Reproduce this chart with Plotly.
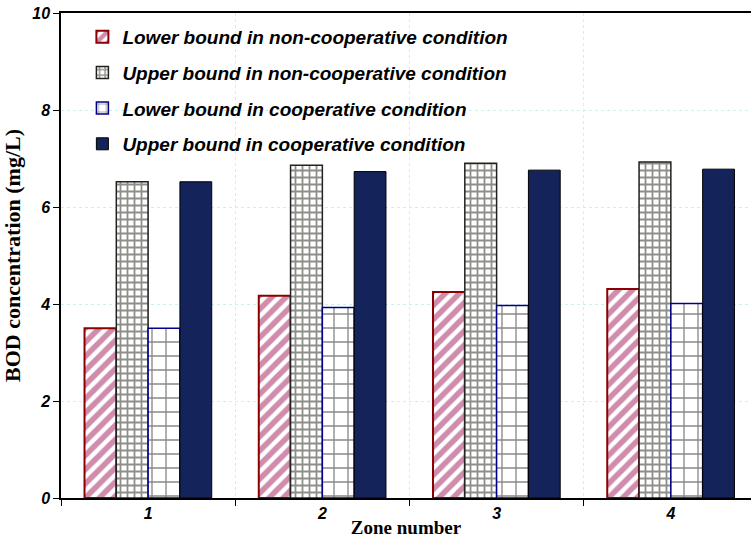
import plotly.graph_objects as go

zones = ["1", "2", "3", "4"]
lower_noncoop = [3.50, 4.17, 4.25, 4.31]
upper_noncoop = [6.52, 6.86, 6.90, 6.93]
lower_coop = [3.50, 3.93, 3.97, 4.01]
upper_coop = [6.52, 6.73, 6.76, 6.78]
series_names = [
    "Lower bound in non-cooperative condition",
    "Upper bound in non-cooperative condition",
    "Lower bound in cooperative condition",
    "Upper bound in cooperative condition",
]
y_ticks = [0, 2, 4, 6, 8, 10]

fig = go.Figure()
fig.add_trace(go.Bar(
    x=zones, y=lower_noncoop, name=series_names[0], legendgroup="a",
    marker=dict(color="white", line=dict(color="#8B0000", width=2),
                pattern=dict(shape="/", fgcolor="#A01A5C", bgcolor="white",
                             size=10, solidity=0.55, fillmode="overlay")),
))
fig.add_trace(go.Bar(
    x=zones, y=upper_noncoop, name=series_names[1], legendgroup="b",
    marker=dict(color="white", line=dict(color="#222222", width=1.5),
                pattern=dict(shape="+", fgcolor="#1e1e14", bgcolor="white",
                             size=7, solidity=0.45, fillmode="overlay")),
))
fig.add_trace(go.Bar(
    x=zones, y=lower_coop, name=series_names[2], legendgroup="c",
    marker=dict(color="white", line=dict(color="#00008B", width=1.5),
                pattern=dict(shape="+", fgcolor="#111111", bgcolor="white",
                             size=14, solidity=0.18, fillmode="overlay")),
))
fig.add_trace(go.Bar(
    x=zones, y=upper_coop, name=series_names[3], legendgroup="d",
    marker=dict(color="#14245a", line=dict(color="#000000", width=1)),
))

fig.update_layout(
    width=751, height=547,
    margin=dict(l=61, r=0, t=13, b=49),
    paper_bgcolor="white", plot_bgcolor="white",
    barmode="group", bargap=0.27, bargroupgap=0,
    showlegend=True,
    legend=dict(
        x=0.031, y=0.99, xanchor="left", yanchor="top",
        bgcolor="rgba(0,0,0,0)", traceorder="grouped", tracegroupgap=8,
        font=dict(family="Liberation Sans", size=19, color="black",
                  weight="bold", style="italic"),
        itemwidth=30,
    ),
    xaxis=dict(
        type="category", range=[-0.5, 3.46], automargin=False,
        tickson="boundaries", ticks="outside", ticklen=6, tickcolor="black",
        showline=True, linecolor="black", linewidth=1.5, mirror=True,
        showgrid=True, gridcolor="#c6f3f3", griddash="dot", gridwidth=1,
        tickfont=dict(family="Liberation Sans", size=16, color="black",
                      weight="bold", style="italic"),
        title=dict(text="Zone number", standoff=0,
                   font=dict(family="Liberation Serif", size=19, color="black",
                             weight="bold")),
    ),
    yaxis=dict(
        range=[0, 10], tickvals=y_ticks, ticks="outside", ticklen=6,
        tickcolor="black", automargin=False,
        showline=True, linecolor="black", linewidth=1.5,
        showgrid=True, gridcolor="#c6f3f3", griddash="dot", gridwidth=1,
        zeroline=False,
        tickfont=dict(family="Liberation Sans", size=16, color="black",
                      weight="bold", style="italic"),
        title=dict(text="BOD concentration (mg/L)", standoff=10,
                   font=dict(family="Liberation Serif", size=22, color="black",
                             weight="bold")),
    ),
)

fig.write_html(
    "out.html",
    config={"displayModeBar": False},
    post_script="document.body.style.margin='0';",
)
